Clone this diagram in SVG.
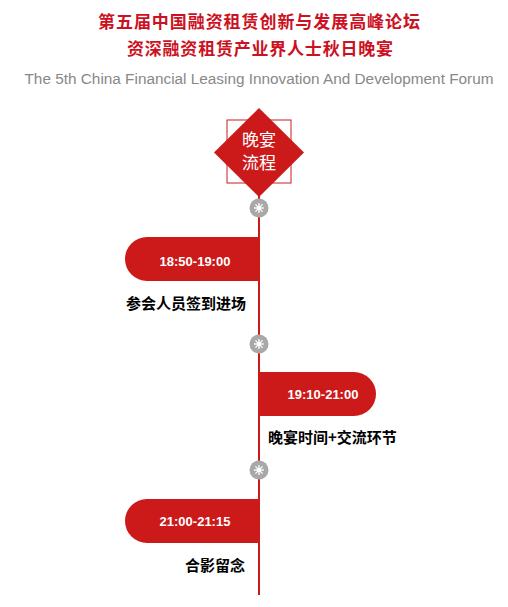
<svg xmlns="http://www.w3.org/2000/svg" width="508" height="607" viewBox="0 0 508 607">
<defs>
<style>
.title{font-family:"Noto Sans CJK SC",sans-serif;font-weight:bold;font-size:17px;fill:#cc1122;text-anchor:middle}
.sub{font-family:"Liberation Sans",Arial,sans-serif;font-size:14px;fill:#888;text-anchor:middle}
.pill{fill:#cc1a1a}
.time{font-family:"Liberation Sans",Arial,sans-serif;font-weight:bold;font-size:13px;fill:#fff;text-anchor:middle}
.lbl{font-family:"Noto Sans CJK SC",sans-serif;font-weight:bold;font-size:15px;fill:#000}
.dot{fill:#a8a8a8}
.star{stroke:#fff;stroke-width:1.3}
</style>
<g id="dotsym">
<circle class="dot" r="9.5"/>
<g class="star">
<line x1="-5" y1="0" x2="5" y2="0"/><line x1="0" y1="-5" x2="0" y2="5"/>
<line x1="-3.6" y1="-3.6" x2="3.6" y2="3.6"/><line x1="-3.6" y1="3.6" x2="3.6" y2="-3.6"/>
</g>
<circle r="2.2" fill="#fff"/>
</g>
</defs>
<rect width="508" height="607" fill="#fff"/>
<g id="header">
<text class="title" x="259" y="28" textLength="322" lengthAdjust="spacing">第五届中国融资租赁创新与发展高峰论坛</text>
<text class="title" x="260" y="55" textLength="266" lengthAdjust="spacing">资深融资租赁产业界人士秋日晚宴</text>
<text class="sub" x="259" y="84" textLength="469" lengthAdjust="spacingAndGlyphs">The 5th China Financial Leasing Innovation And Development Forum</text>
</g>
<g id="connectors">
<line x1="259" y1="185" x2="259" y2="595" stroke="#cc1a1a" stroke-width="2"/>
</g>
<g id="start">
<rect x="227" y="120" width="64" height="63" fill="none" stroke="#cc1a1a" stroke-width="1"/>
<polygon points="259,108 304,152.5 259,197 214,152.5" fill="#cc1a1a"/>
<text x="259" y="146" font-family="Noto Sans CJK SC,sans-serif" font-size="17" fill="#fff" text-anchor="middle">晚宴</text>
<text x="259" y="169" font-family="Noto Sans CJK SC,sans-serif" font-size="17" fill="#fff" text-anchor="middle">流程</text>
</g>
<g id="dot1"><use href="#dotsym" x="259" y="208"/></g>
<g id="dot2"><use href="#dotsym" x="259" y="344"/></g>
<g id="dot3"><use href="#dotsym" x="259" y="470"/></g>
<g id="step1">
<path class="pill" d="M259,237 H147 A22,22 0 0 0 147,281 H259 Z"/>
<text class="time" x="195" y="265.5">18:50-19:00</text>
<text class="lbl" x="126" y="309">参会人员签到进场</text>
</g>
<g id="step2">
<path class="pill" d="M259,372 H354 A22,22 0 0 1 354,416 H259 Z"/>
<text class="time" x="323" y="398.5">19:10-21:00</text>
<text class="lbl" x="268" y="443">晚宴时间+交流环节</text>
</g>
<g id="step3">
<path class="pill" d="M259,499 H147 A22,22 0 0 0 147,543 H259 Z"/>
<text class="time" x="195" y="525.5">21:00-21:15</text>
<text class="lbl" x="185" y="571">合影留念</text>
</g>
</svg>
